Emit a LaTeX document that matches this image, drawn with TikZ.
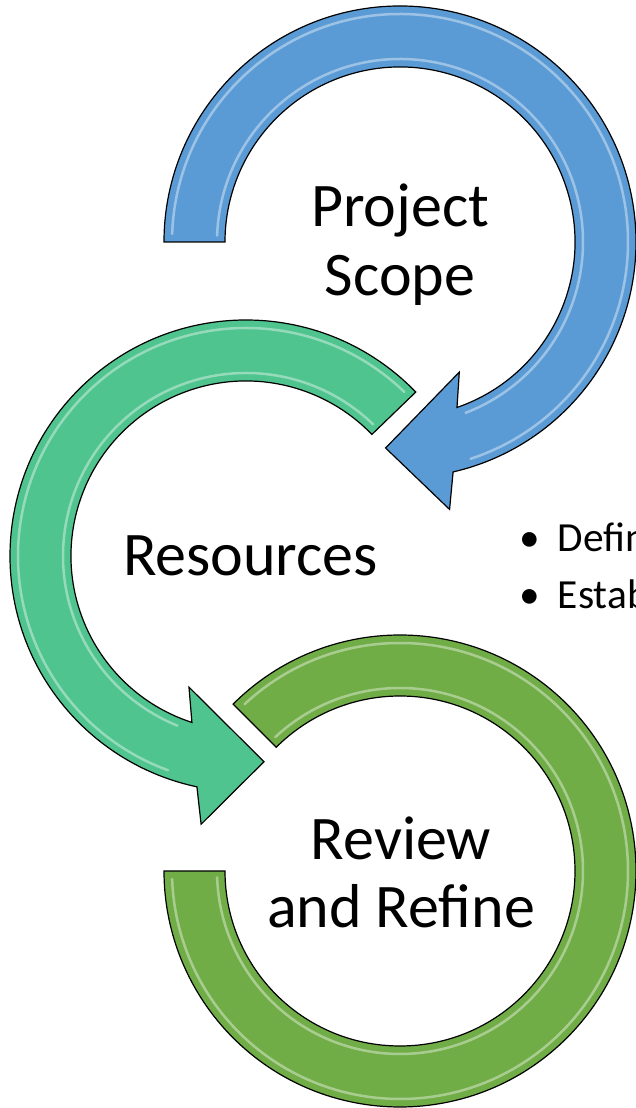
\documentclass[tikz,border=0pt]{standalone}
\usepackage{fontspec}
\setmainfont{Carlito}
\definecolor{scopeblue}{HTML}{5B9BD5}
\definecolor{resteal}{HTML}{4FC48E}
\definecolor{reviewgreen}{HTML}{70AD47}
\tikzset{
	band/.style={draw=black, line width=1.2pt, line join=miter, fill=#1},
	sheen/.style={draw=white, opacity=0.4, line width=2.5pt, line cap=round},
	bigtext/.style={anchor=base, inner sep=0, font=\fontsize{62}{69}\selectfont},
	bullettext/.style={anchor=base west, inner sep=0, font=\fontsize{41.4}{56.7}\selectfont},
}
\begin{document}
\begin{tikzpicture}[x=1pt,y=1pt]
	\useasboundingbox (0,0) rectangle (636,1108);
	\clip (0,0) rectangle (636,1108);
	\coordinate (scopec) at (400,866);
	\coordinate (resc) at (246,552);
	\coordinate (revc) at (400,237);
	% review ring, both ends cut flat
	\draw[band=reviewgreen] ([shift={(135:236)}]revc) arc[start angle=135, end angle=-180, radius=236]
		-- ([shift={(180:175)}]revc) arc[start angle=-180, end angle=135, radius=175] -- cycle;
	\draw[sheen] ([shift={(133:228)}]revc) arc[start angle=133, end angle=-178, radius=228];
	\draw[sheen] ([shift={(133:183)}]revc) arc[start angle=133, end angle=-178, radius=183];
	% resources arrow
	\draw[band=resteal] ([shift={(44:236)}]resc) arc[start angle=44, end angle=258, radius=236]
		-- ([shift={(260.5:272)}]resc) -- ([shift={(275:206.5)}]resc) -- ([shift={(246.5:143)}]resc)
		-- ([shift={(252:175)}]resc) arc[start angle=252, end angle=44, radius=175] -- cycle;
	\draw[sheen] ([shift={(46:228)}]resc) arc[start angle=46, end angle=250, radius=228];
	\draw[sheen] ([shift={(46:183)}]resc) arc[start angle=46, end angle=248, radius=183];
	% project scope arrow
	\draw[band=scopeblue] ([shift={(180:236)}]scopec) arc[start angle=180, end angle=-77, radius=236]
		-- ([shift={(-79.5:272)}]scopec) -- ([shift={(-94:206.5)}]scopec) -- ([shift={(-65.5:143)}]scopec)
		-- ([shift={(-71:175)}]scopec) arc[start angle=-71, end angle=180, radius=175] -- cycle;
	\draw[sheen] ([shift={(178:228)}]scopec) arc[start angle=178, end angle=-72, radius=228];
	\draw[sheen] ([shift={(178:183)}]scopec) arc[start angle=178, end angle=-69, radius=183];
	% texts
	\node[bigtext] (project) at (400,881) {Project};
	\node[bigtext] (scopetxt) at (400,812) {Scope};
	\node[bigtext] (resources) at (250.5,532) {Resources};
	\node[bigtext] (review) at (401,248) {Review};
	\node[bigtext] (refine) at (401,180) {and Refine};
	\node[bullettext, anchor=base] (dot1) at (530.3,556.3) {•};
	\node[bullettext] (define) at (557.7,556.3) {Define};
	\node[bullettext, anchor=base] (dot2) at (530.3,499.7) {•};
	\node[bullettext] (establish) at (557.7,499.7) {Establish};
\end{tikzpicture}
\end{document}
